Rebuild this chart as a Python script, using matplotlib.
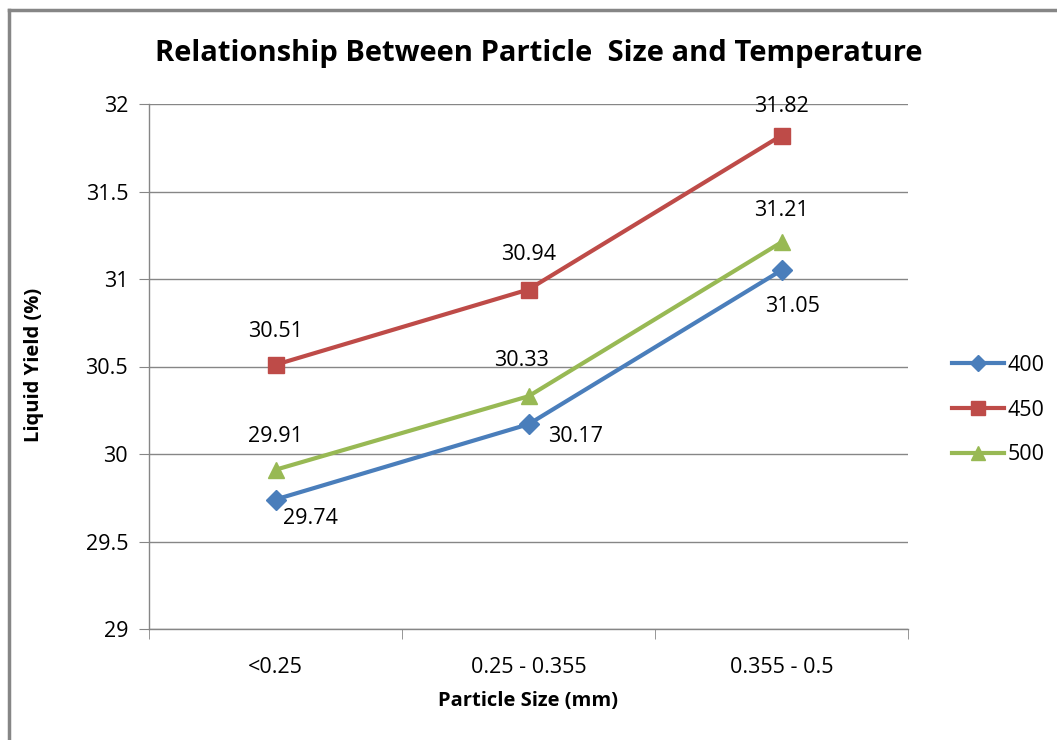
import matplotlib.pyplot as plt
from matplotlib.lines import Line2D
import numpy as np

categories = ['<0.25', '0.25 - 0.355', '0.355 - 0.5']
temps = ['400', '450', '500']
yield_400 = [29.74, 30.17, 31.05]
yield_450 = [30.51, 30.94, 31.82]
yield_500 = [29.91, 30.33, 31.21]

plt.rcParams['font.family'] = ['Open Sans', 'DejaVu Sans']

colors = {'400': '#4A7EBB', '450': '#BE4B48', '500': '#98B954'}
markers = {'400': 'D', '450': 's', '500': '^'}
msizes = {'400': 10, '450': 12, '500': 12}
series = {'400': yield_400, '450': yield_450, '500': yield_500}
# label offsets in points (dx, dy)
offsets = {
    '400': [(25, -14), (34, -9), (8, -26)],
    '450': [(0, 24), (0, 25), (0, 21)],
    '500': [(0, 24), (-5, 26), (0, 23)],
}

fig = plt.figure(figsize=(10.57, 7.4), dpi=100)
ax = fig.add_axes([149/1057, 1-629/740, (908-149)/1057, (629-104)/740])

x = np.arange(len(categories))
handles = []
for t in temps:
    line, = ax.plot(x, series[t], color=colors[t], linewidth=3, marker=markers[t],
                    markersize=msizes[t], markerfacecolor=colors[t],
                    markeredgecolor=colors[t], zorder=3)
    handles.append(line)
    for i, v in enumerate(series[t]):
        dx, dy = offsets[t][i]
        ax.annotate('%.2f' % v, (x[i], v), xytext=(dx, dy), textcoords='offset points',
                    ha='center', va='center', fontsize=15.5, color='#000000')

ax.set_xlim(-0.5, 2.5)
ax.set_ylim(29, 32)
ax.set_yticks(np.arange(29, 32.01, 0.5))
ax.set_yticklabels(['29', '29.5', '30', '30.5', '31', '31.5', '32'])
ax.yaxis.grid(True, color='#868686', linewidth=1)
ax.set_axisbelow(True)

ax.set_xticks(x)
ax.set_xticklabels(categories)
ax.set_xticks([-0.5, 0.5, 1.5, 2.5], minor=True)
ax.tick_params(axis='x', which='major', length=0, pad=20, labelsize=15.5)
ax.tick_params(axis='x', which='minor', length=7, color='#868686', direction='out')
ax.tick_params(axis='y', length=7, color='#868686', direction='out', pad=8, labelsize=15.5)

for s in ['top', 'right']:
    ax.spines[s].set_visible(False)
for s in ['left', 'bottom']:
    ax.spines[s].set_color('#868686')
    ax.spines[s].set_linewidth(1)

ax.set_ylabel('Liquid Yield (%)', fontsize=14.5, fontweight='bold')
ax.yaxis.set_label_coords(-0.138, 0.503)
ax.set_xlabel('Particle Size (mm)', fontsize=14.5, fontweight='bold')
ax.xaxis.set_label_coords(0.5, -0.118)
fig.text(539/1057, 1-53/740, 'Relationship Between Particle  Size and Temperature',
         ha='center', va='center', fontsize=21, fontweight='bold')

fig.legend(handles, temps, loc='center left', bbox_to_anchor=(933/1057, 1-410/740),
           frameon=False, fontsize=15.5, handlelength=2.4, labelspacing=1.1,
           handletextpad=0.15, markerscale=0.85)

# outer chart border (top and left visible)
fig.add_artist(Line2D([9/1057, 9/1057], [0, 1-10/740], color='#868686', linewidth=2.5,
                      transform=fig.transFigure))
fig.add_artist(Line2D([9/1057, 1], [1-10/740, 1-10/740], color='#868686', linewidth=2.5,
                      transform=fig.transFigure))

fig.savefig('out.png', dpi=100)
